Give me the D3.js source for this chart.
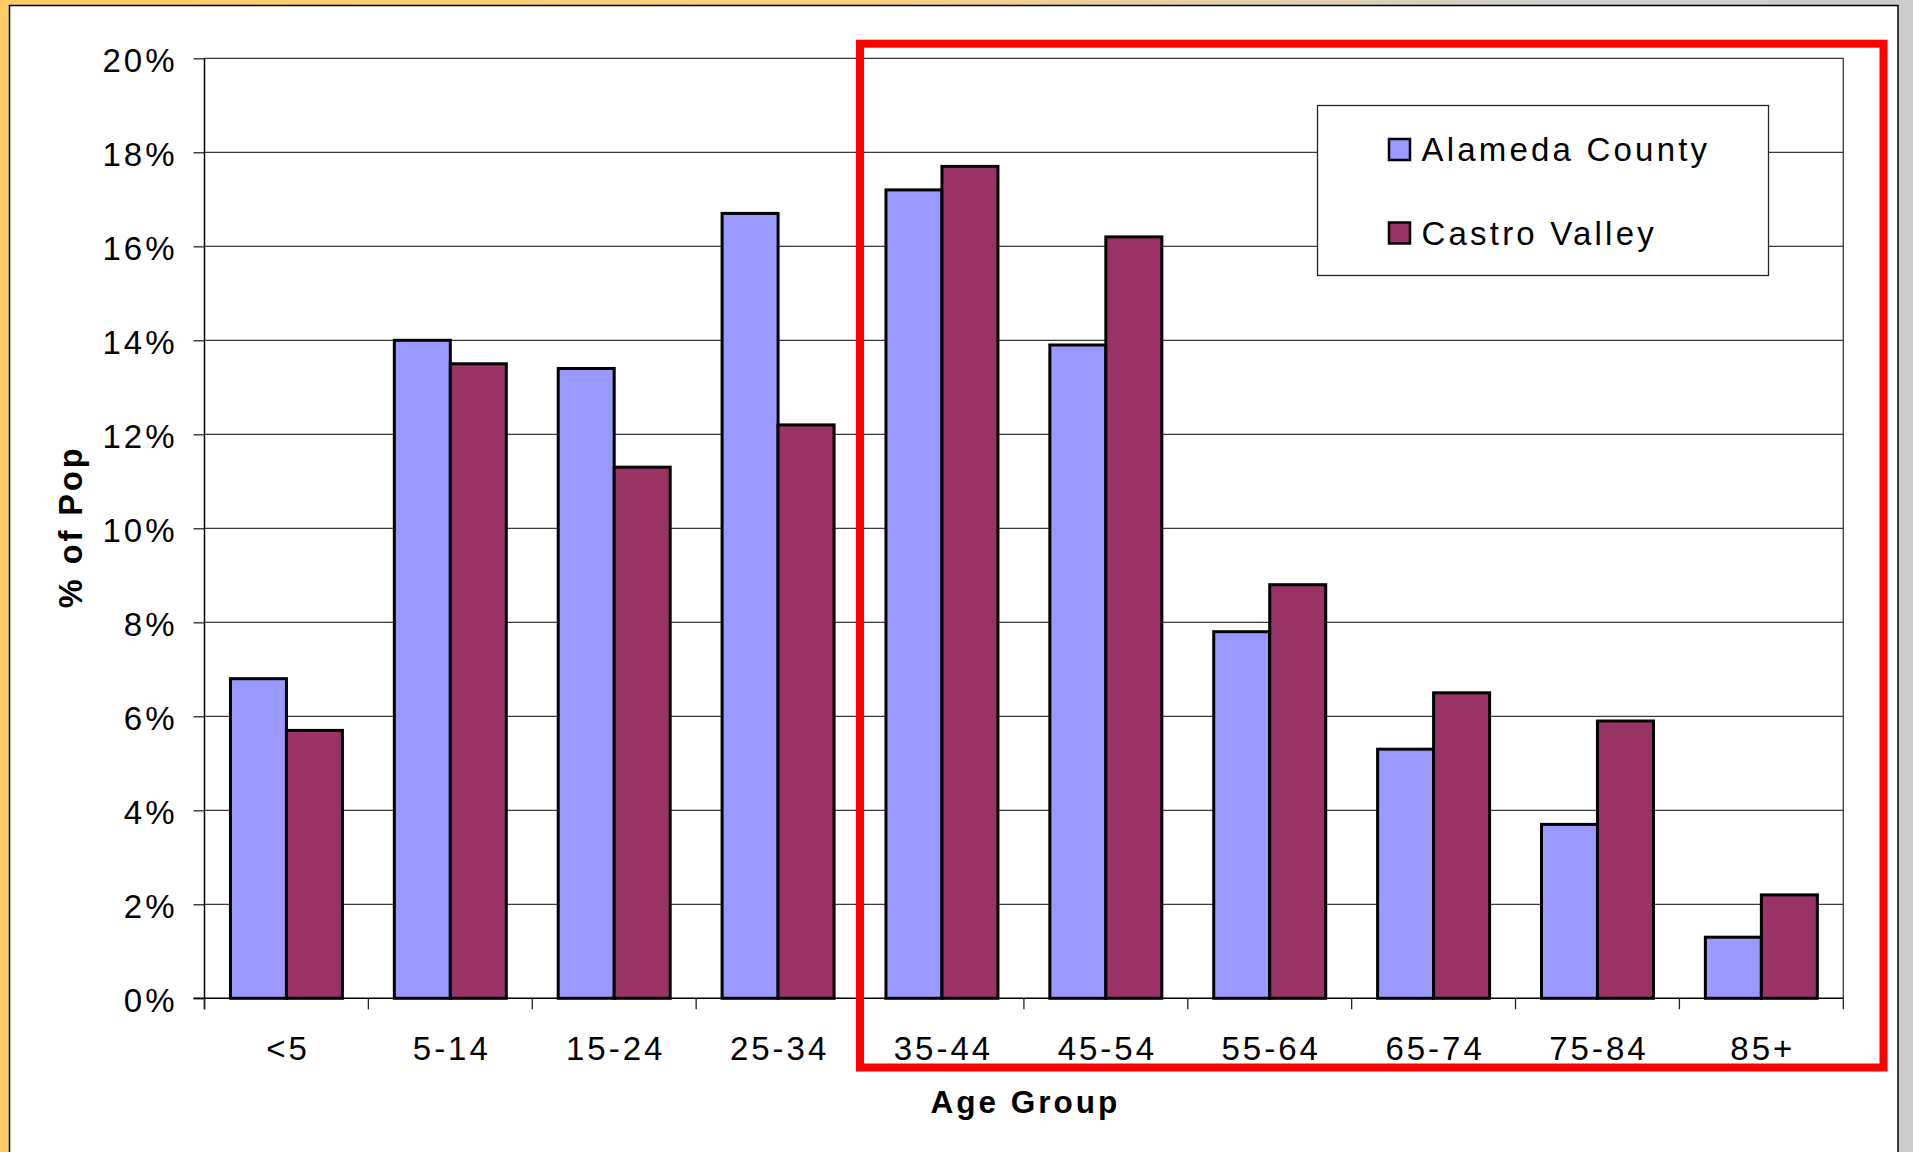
<!DOCTYPE html>
<html>
<head>
<meta charset="utf-8">
<script src="https://cdn.jsdelivr.net/npm/d3@7"></script>
<style>
  html, body { margin: 0; padding: 0; background: #ffffff; overflow: hidden; }
  svg { display: block; }
  text { font-family: "Liberation Sans", Arial, sans-serif; fill: #000; }
</style>
</head>
<body>
<script>
// Share of population by age group
const categories = ["<5", "5-14", "15-24", "25-34", "35-44", "45-54", "55-64", "65-74", "75-84", "85+"];
const alamedaCounty = [6.8, 14.0, 13.4, 16.7, 17.2, 13.9, 7.8, 5.3, 3.7, 1.3];
const castroValley = [5.7, 13.5, 11.3, 12.2, 17.7, 16.2, 8.8, 6.5, 5.9, 2.2];
const seriesNames = ["Alameda County", "Castro Valley"];
const seriesColors = ["#9999FF", "#993366"];
const yTicks = [0, 2, 4, 6, 8, 10, 12, 14, 16, 18, 20];
const highlighted = ["35-44", "85+"];

const W = 1913, H = 1152;
const plot = { left: 204.5, right: 1843.3, top: 58.3, bottom: 998.3 };

const svg = d3.select("body").append("svg")
  .attr("width", W).attr("height", H);

// page surround and chart frame
const defs = svg.append("defs");
const grad = defs.append("linearGradient").attr("id", "topStrip")
  .attr("x1", "0").attr("x2", "1").attr("y1", "0").attr("y2", "0");
grad.append("stop").attr("offset", "0").attr("stop-color", "#FFCC66");
grad.append("stop").attr("offset", "0.45").attr("stop-color", "#F8CF80");
grad.append("stop").attr("offset", "0.8").attr("stop-color", "#D2D0CB");
grad.append("stop").attr("offset", "1").attr("stop-color", "#CCCCCC");

svg.append("rect").attr("x", 0).attr("y", 0).attr("width", W).attr("height", H).attr("fill", "#CCCCCC");
svg.append("rect").attr("x", 0).attr("y", 0).attr("width", 10).attr("height", H).attr("fill", "#FFCC66");
svg.append("rect").attr("x", 0).attr("y", 0).attr("width", W).attr("height", 5).attr("fill", "url(#topStrip)");
svg.append("rect").attr("x", 9.5).attr("y", 5.5).attr("width", 1888.5).attr("height", H)
  .attr("fill", "#ffffff").attr("stroke", "#000").attr("stroke-width", 1.5);

// scales
const x0 = d3.scaleBand().domain(categories).range([plot.left, plot.right]).padding(0);
const x1 = d3.scaleBand().domain(seriesNames).range([0, x0.bandwidth()])
  .paddingInner(0).paddingOuter(0.4634);
const y = d3.scaleLinear().domain([0, 20]).range([plot.bottom, plot.top]);

// horizontal gridlines
svg.append("g").selectAll("line").data(yTicks.slice(1)).join("line")
  .attr("x1", plot.left).attr("x2", plot.right)
  .attr("y1", d => y(d)).attr("y2", d => y(d))
  .attr("stroke", "#3a3a3a").attr("stroke-width", 1.3);

// right edge of the plot area
svg.append("line").attr("x1", plot.right).attr("x2", plot.right)
  .attr("y1", plot.top).attr("y2", plot.bottom)
  .attr("stroke", "#3a3a3a").attr("stroke-width", 1.3);

// bars
const rows = categories.map((c, i) => ({ cat: c, vals: [alamedaCounty[i], castroValley[i]] }));
const groups = svg.append("g").selectAll("g").data(rows).join("g")
  .attr("transform", d => `translate(${x0(d.cat)},0)`);
groups.selectAll("rect").data(d => d.vals.map((v, k) => ({ v, k }))).join("rect")
  .attr("x", d => x1(seriesNames[d.k]))
  .attr("width", x1.bandwidth())
  .attr("y", d => y(d.v))
  .attr("height", d => y(0) - y(d.v))
  .attr("fill", d => seriesColors[d.k])
  .attr("stroke", "#000").attr("stroke-width", 3);

// y axis
const yAxis = d3.axisLeft(y).tickValues(yTicks).tickFormat(d => d + "%")
  .tickSize(11).tickPadding(19);
const gy = svg.append("g").attr("transform", `translate(${plot.left},0)`).call(yAxis);
gy.select(".domain").attr("stroke", "#000").attr("stroke-width", 1.5)
  .attr("d", `M0,${plot.top}V${plot.bottom + 11}`);
gy.selectAll(".tick line").attr("stroke", "#222").attr("stroke-width", 1.3);
gy.selectAll(".tick text")
  .attr("font-family", "Liberation Sans, Arial, sans-serif")
  .attr("font-size", 33).attr("letter-spacing", "3px")
  .attr("dy", null).attr("y", 13).attr("x", -27)
  .attr("fill", "#000");

// x axis: ticks sit on category boundaries
const bounds = categories.map(c => x0(c)).concat([plot.right]);
const gx = svg.append("g");
gx.append("line").attr("x1", plot.left - 11).attr("x2", plot.right)
  .attr("y1", plot.bottom).attr("y2", plot.bottom)
  .attr("stroke", "#000").attr("stroke-width", 1.5);
gx.selectAll("line.tk").data(bounds).join("line").attr("class", "tk")
  .attr("x1", d => d).attr("x2", d => d)
  .attr("y1", plot.bottom).attr("y2", plot.bottom + 11)
  .attr("stroke", "#222").attr("stroke-width", 1.3);
gx.selectAll("text").data(categories).join("text")
  .attr("x", d => x0(d) + x0.bandwidth() / 2 + 1.5)
  .attr("y", 1060)
  .attr("text-anchor", "middle")
  .attr("font-size", 33).attr("letter-spacing", "3px")
  .text(d => d);

// axis titles
svg.append("text")
  .attr("x", (plot.left + plot.right) / 2 + 1.5).attr("y", 1112.5)
  .attr("text-anchor", "middle")
  .attr("font-size", 31.5).attr("font-weight", "bold").attr("letter-spacing", "3px")
  .text("Age Group");
svg.append("text")
  .attr("transform", `translate(82,${(plot.top + plot.bottom) / 2 - 1.5}) rotate(-90)`)
  .attr("text-anchor", "middle")
  .attr("font-size", 32.5).attr("font-weight", "bold").attr("letter-spacing", "3px")
  .text("% of Pop");

// legend
const legend = svg.append("g");
legend.append("rect").attr("x", 1317.5).attr("y", 105.5).attr("width", 451).attr("height", 170)
  .attr("fill", "#fff").attr("stroke", "#222").attr("stroke-width", 1.3);
const items = legend.selectAll("g").data(seriesNames).join("g")
  .attr("transform", (d, i) => `translate(0,${i * 83.5})`);
items.append("rect").attr("x", 1389).attr("y", 139).attr("width", 21).attr("height", 21)
  .attr("fill", (d, i) => seriesColors[i]).attr("stroke", "#000").attr("stroke-width", 2.5);
items.append("text").attr("x", 1421.5).attr("y", 161)
  .attr("font-size", 33).attr("letter-spacing", "3.2px")
  .text(d => d);

// highlight box around the older age groups
const hx0 = x0(highlighted[0]);
const hx1 = x0(highlighted[1]) + x0.bandwidth() + 40.2;
svg.append("rect")
  .attr("x", hx0).attr("y", 43.7)
  .attr("width", hx1 - hx0).attr("height", 1067.5 - 43.7)
  .attr("fill", "none").attr("stroke", "#FF0000").attr("stroke-width", 8);
</script>
</body>
</html>
